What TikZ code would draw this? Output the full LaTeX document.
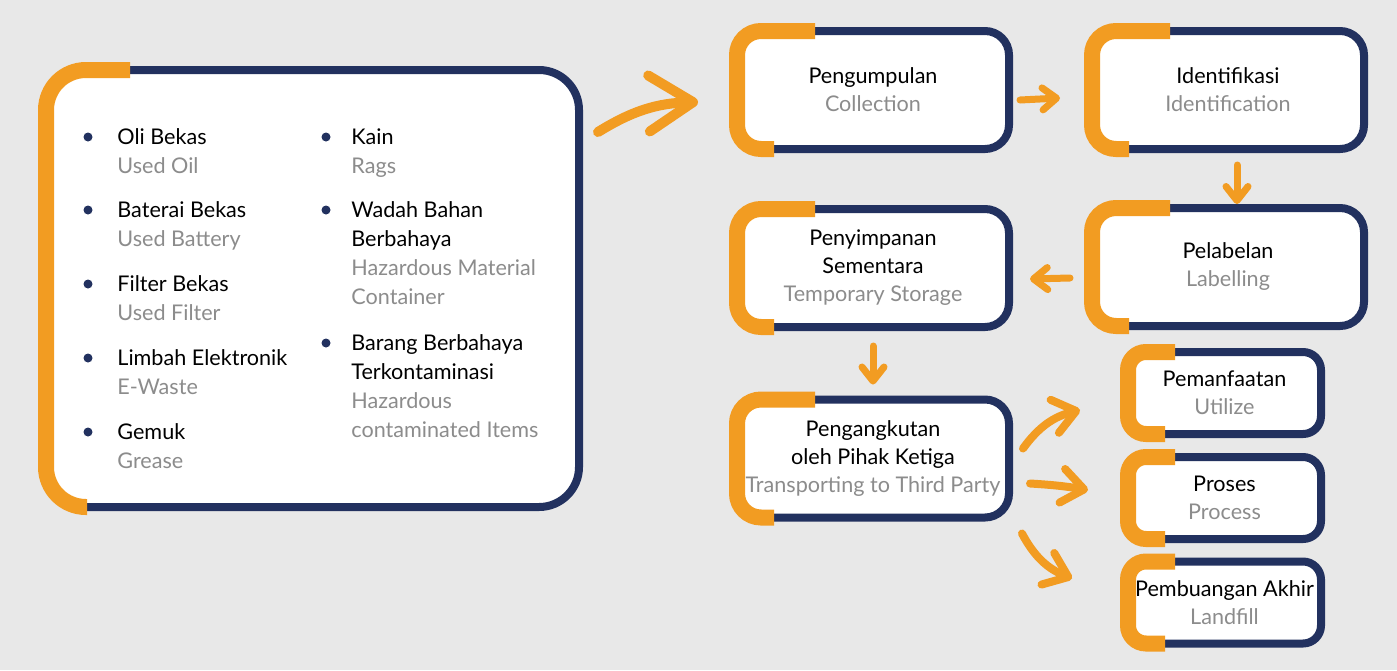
\documentclass[tikz,border=0pt]{standalone}
\usepackage{fontspec}
\setmainfont{Lato}
\usetikzlibrary{arrows.meta,calc}
\definecolor{navy}{HTML}{22315F}
\definecolor{amber}{HTML}{F29C22}
\definecolor{paper}{HTML}{E8E8E8}
\definecolor{subtext}{HTML}{8C8C8C}

\newcommand{\engl}[1]{\textcolor{subtext}{#1}}

\tikzset{
  stepbox/.style={draw=navy,fill=white,line width=4pt,rounded corners=12pt,
    inner sep=0pt,outer sep=0pt,align=center,
    minimum width=136pt,minimum height=59pt,
    font=\fontsize{10.8}{14}\selectfont},
  endbox/.style={stepbox,rounded corners=9pt,minimum width=96.5pt,minimum height=41pt},
  bracket/.style={amber,line width=8pt,rounded corners=12pt},
  item/.style={anchor=north west,inner sep=0pt,align=left,
    font=\fontsize{10.8}{14.5}\selectfont},
  dot/.style={circle,fill=navy,inner sep=0pt,minimum size=4.5pt},
  flow/.style={amber,line width=3.5pt,line cap=round,
    -{Straight Barb[round,length=7pt,width=11pt]}},
  midflow/.style={flow,line width=4pt,-{Straight Barb[round,length=11pt,width=17pt]}},
  bigflow/.style={flow,line width=5pt,-{Straight Barb[round,length=22pt,width=28pt]}}
}

% orange bracket on the left side of a box
\newcommand{\bracketon}[4][12pt]{%
  \draw[bracket,rounded corners=#1] ($(#2.north west)+(#3,0)$) -| (#2.south west) -- ++(#4,0);}

\begin{document}
\begin{tikzpicture}[x=0.5pt,y=-0.5pt]
 \fill[paper] (0,0) rectangle (1397,670);
 \useasboundingbox (0,0) rectangle (1397,670);

 % waste list
 \node[stepbox,rounded corners=20pt,minimum width=266.5pt,minimum height=218.5pt]
   (list) at (312.5,288.5) {};
 \bracketon[20pt]{list}{84}{41}
 \foreach \y/\id/\txt in {144/oli/{Oli Bekas\\\engl{Used Oil}},
     217/baterai/{Baterai Bekas\\\engl{Used Battery}},
     291/filter/{Filter Bekas\\\engl{Used Filter}},
     365/elektronik/{Limbah Elektronik\\\engl{E-Waste}},
     439/gemuk/{Gemuk\\\engl{Grease}}} {
   \node[dot] (dot-\id) at (88,\y-7) {};
   \node[item] (item-\id) at (117,\y-20.3) {\strut\txt};
 }
 \foreach \y/\id/\txt in {144/kain/{Kain\\\engl{Rags}},
     217/wadah/{Wadah Bahan\\Berbahaya\\\engl{Hazardous Material}\\\engl{Container}},
     350/barang/{Barang Berbahaya\\Terkontaminasi\\\engl{Hazardous}\\\engl{contaminated Items}}} {
   \node[dot] (dot-\id) at (326,\y-7) {};
   \node[item] (item-\id) at (351,\y-20.3) {\strut\txt};
 }

 % process steps
 \node[stepbox] (collect) at (873,90) {Pengumpulan\\\engl{Collection}};
 \node[stepbox] (ident) at (1228,90) {Identifikasi\\\engl{Identification}};
 \node[stepbox] (label) at (1228,267) {Pelabelan\\\engl{Labelling}};
 \node[stepbox] (store) at (873,268) {Penyimpanan\\Sementara\\\engl{Temporary Storage}};
 \node[stepbox] (transport) at (873,458.5)
   {Pengangkutan\\oleh Pihak Ketiga\\\engl{Transporting to Third Party}};
 \node[endbox] (util) at (1224.5,393) {Pemanfaatan\\\engl{Utilize}};
 \node[endbox] (proc) at (1224.5,498) {Proses\\\engl{Process}};
 \node[endbox] (land) at (1224.5,602.5) {Pembuangan Akhir\\\engl{Landfill}};

 \foreach \n in {collect,ident,label,store,transport}
   {\bracketon{\n}{78}{37}}
 \foreach \n in {util,proc,land}
   {\bracketon[9pt]{\n}{47}{37}}

 % arrows
 \draw[bigflow] ($(list.north east)+(19,62)$) to[bend left=15] ($(collect.west)+(-39,12)$);
 \draw[flow] ($(collect.east)+(11,10)$) -- ($(ident.west)+(-32,8)$);
 \draw[flow] ($(ident.south)+(9,16)$) -- ($(label.north)+(9,-4)$);
 \draw[flow] ($(label.west)+(-22,11)$) -- ($(store.east)+(21,11)$);
 \draw[flow] ($(store.south)+(0,19)$) -- ($(transport.north)+(0,-15)$);
 \draw[midflow] ($(transport.east)+(14,-10)$) to[bend left=20] ($(util.west)+(-48,17)$);
 \draw[midflow] ($(transport.east)+(21,25)$) to[bend left=3] ($(proc.west)+(-40,-8)$);
 \draw[midflow] ($(transport.east)+(13,75)$) to[bend right=20] ($(land.west)+(-56,-24)$);
\end{tikzpicture}
\end{document}
